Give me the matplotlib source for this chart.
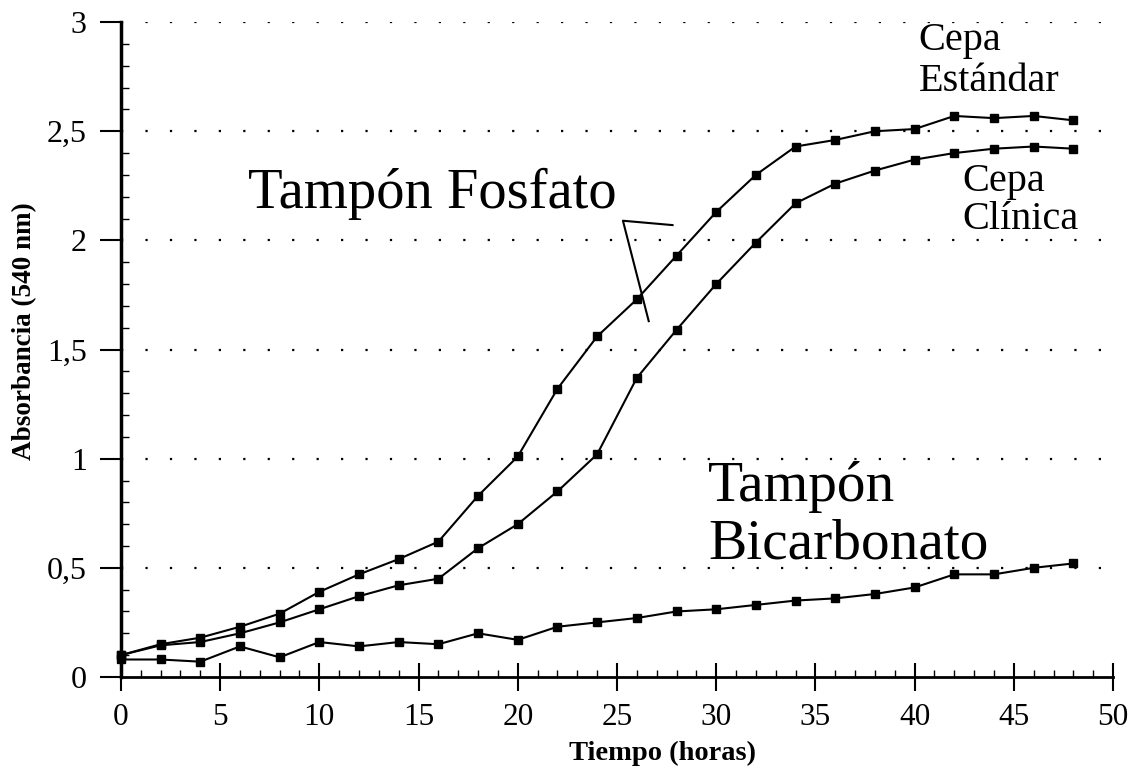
import matplotlib
matplotlib.use("Agg")
import matplotlib.pyplot as plt
from matplotlib.ticker import MultipleLocator, FixedLocator

plt.rcParams['font.family'] = ['Liberation Serif', 'DejaVu Serif']

# Tiempo (horas)
horas = [0, 2, 4, 6, 8, 10, 12, 14, 16, 18, 20, 22, 24,
         26, 28, 30, 32, 34, 36, 38, 40, 42, 44, 46, 48]

# Absorbancia a 540 nm
cepa_estandar = [0.10, 0.15, 0.18, 0.23, 0.29, 0.39, 0.47, 0.54, 0.62, 0.83, 1.01, 1.32, 1.56,
                 1.73, 1.93, 2.13, 2.30, 2.43, 2.46, 2.50, 2.51, 2.57, 2.56, 2.57, 2.55]
cepa_clinica = [0.10, 0.145, 0.16, 0.20, 0.25, 0.31, 0.37, 0.42, 0.45, 0.59, 0.70, 0.85, 1.02,
                1.37, 1.59, 1.80, 1.99, 2.17, 2.26, 2.32, 2.37, 2.40, 2.42, 2.43, 2.42]
bicarbonato = [0.08, 0.08, 0.07, 0.14, 0.09, 0.16, 0.14, 0.16, 0.15, 0.20, 0.17, 0.23, 0.25,
               0.27, 0.30, 0.31, 0.33, 0.35, 0.36, 0.38, 0.41, 0.47, 0.47, 0.50, 0.52]

y_ticks = [0, 0.5, 1, 1.5, 2, 2.5, 3]
y_labels = ['0', '0,5', '1', '1,5', '2', '2,5', '3']
x_ticks = [0, 5, 10, 15, 20, 25, 30, 35, 40, 45, 50]

fig = plt.figure(figsize=(11.3, 7.75), dpi=100)
ax = fig.add_axes([0.107, 0.1265, 0.878, 0.845])

# dotted horizontal grid
for y in y_ticks[1:]:
    ax.axhline(y, color='black', lw=1.6, ls=(0, (1, 10)), zorder=1)

for serie in (cepa_estandar, cepa_clinica, bicarbonato):
    ax.plot(horas, serie, color='black', lw=1.5, marker='s', ms=6, clip_on=False, zorder=3)

# line pointing to the two phosphate curves
ax.plot([27.8, 25.3, 26.6], [2.07, 2.09, 1.63], color='black', lw=1.5)

ax.text(6.4, 2.15, 'Tampón Fosfato', fontsize=40.8, va='baseline', ha='left')
ax.text(29.6, 0.99, 'Tampón\nBicarbonato', fontsize=41.3, va='top', ha='left', linespacing=1.14)
ax.text(40.2, 3.0, 'Cepa\nEstándar', fontsize=29, va='top', ha='left', linespacing=1.15)
ax.text(42.4, 2.355, 'Cepa\nClínica', fontsize=29, va='top', ha='left', linespacing=1.05)

ax.set_xlim(0, 50)
ax.set_ylim(0, 3)
ax.spines['top'].set_visible(False)
ax.spines['right'].set_visible(False)
ax.spines['left'].set_linewidth(2.5)
ax.spines['bottom'].set_linewidth(2)

ax.xaxis.set_major_locator(FixedLocator(x_ticks))
ax.xaxis.set_minor_locator(MultipleLocator(1))
ax.set_yticks(y_ticks)
ax.set_yticklabels(y_labels)
ax.yaxis.set_minor_locator(MultipleLocator(0.1))

ax.tick_params(axis='x', which='major', direction='inout', length=20, width=1.5, labelsize=22.5, pad=9)
ax.tick_params(axis='x', which='minor', direction='in', length=5, width=1)
ax.tick_params(axis='y', which='major', direction='out', length=15, width=1.5, labelsize=23, pad=9.5)
ax.tick_params(axis='y', which='minor', direction='in', length=6, width=1)

ax.set_xlabel('Tiempo (horas)', fontsize=20.5, fontweight='bold', labelpad=6, x=0.546)
ax.set_ylabel('Absorbancia (540 nm)', fontsize=19.5, fontweight='bold', labelpad=7, y=0.528)

fig.savefig('out.png', dpi=100)
